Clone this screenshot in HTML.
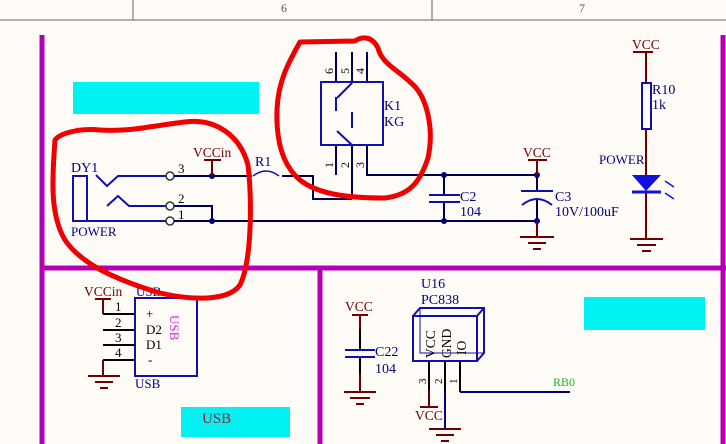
<!DOCTYPE html>
<html><head><meta charset="utf-8"><style>
html,body{margin:0;padding:0;background:#fffcf7;}
svg{display:block;font-family:"Liberation Serif",serif;}
</style></head><body>
<svg width="726" height="444" viewBox="0 0 726 444" xmlns="http://www.w3.org/2000/svg">
<rect width="726" height="444" fill="#fffcf7"/>
<!-- header -->
<line x1="0" y1="20" x2="726" y2="20" stroke="#666" stroke-width="1"/>
<line x1="133" y1="0" x2="133" y2="20" stroke="#666"/>
<line x1="432" y1="0" x2="432" y2="20" stroke="#666"/>
<text x="281" y="12" font-size="12" fill="#555">6</text>
<text x="579" y="12" font-size="12" fill="#555">7</text>
<!-- purple borders -->
<g stroke="#b400b4" stroke-width="5">
<line x1="42" y1="35" x2="42" y2="444"/>
<line x1="723" y1="35" x2="723" y2="444"/>
<line x1="40" y1="268" x2="726" y2="268"/>
<line x1="320" y1="268" x2="320" y2="444"/>
</g>
<!-- cyan -->
<rect x="73" y="82" width="186" height="32" fill="#00f2f2"/>
<rect x="181" y="407" width="109" height="30" fill="#00f2f2"/>
<rect x="584" y="297" width="121" height="33" fill="#00f2f2"/>
<text x="202" y="423" font-size="15" fill="#a0202a">USB</text>
<!-- DY1 -->
<g stroke="#1010b0" stroke-width="2" fill="none">
<rect x="73" y="176" width="14" height="45"/>
<polyline points="96,175 107,186 118,176 166,176"/>
<polyline points="107,206 118,196 129,206 166,206"/>
<line x1="73" y1="221" x2="166" y2="221"/>
</g>
<g stroke="#333" stroke-width="1.5" fill="#fff">
<circle cx="170" cy="176" r="4"/><circle cx="170" cy="206" r="4"/><circle cx="170" cy="221" r="4"/>
</g>
<g stroke="#000050" stroke-width="2" fill="none">
<line x1="174" y1="176" x2="252" y2="176"/>
<polyline points="174,206 212,206 212,221"/>
<line x1="174" y1="221" x2="537" y2="221"/>
<polyline points="282,176 313,176 313,199 352,199"/>
<polyline points="367,145 367,175 537,175"/>
<line x1="336" y1="145" x2="336" y2="175"/>
<line x1="352" y1="145" x2="352" y2="199"/>
<line x1="336" y1="52" x2="336" y2="82"/>
<line x1="352" y1="52" x2="352" y2="82"/>
<line x1="367" y1="52" x2="367" y2="82"/>
<line x1="444" y1="175" x2="444" y2="195"/><line x1="444" y1="202" x2="444" y2="221"/>
<line x1="537" y1="175" x2="537" y2="191"/><line x1="537" y1="200" x2="537" y2="221"/>
</g>
<path d="M253,176 Q266,166 279,176" stroke="#1010b0" stroke-width="1.5" fill="none"/>
<text x="255" y="166" font-size="14" fill="#000080">R1</text>
<g fill="#000080"><circle cx="212" cy="176" r="3"/><circle cx="212" cy="221" r="3"/><circle cx="444" cy="175" r="3"/><circle cx="537" cy="175" r="3"/><circle cx="444" cy="221" r="3"/><circle cx="537" cy="221" r="3"/></g>
<text x="71" y="172" font-size="14" fill="#000080">DY1</text>
<text x="71" y="236" font-size="13" fill="#000080">POWER</text>
<text x="178" y="173" font-size="13" fill="#000">3</text>
<text x="178" y="203" font-size="13" fill="#000">2</text>
<text x="178" y="219" font-size="13" fill="#000">1</text>
<g stroke="#700000" stroke-width="2"><line x1="212" y1="160" x2="212" y2="176"/><line x1="204" y1="160" x2="221" y2="160"/></g>
<text x="193" y="157" font-size="13.5" fill="#700000">VCCin</text>
<!-- K1 -->
<g stroke="#1010b0" stroke-width="2" fill="none">
<rect x="321" y="82" width="62" height="63"/>
<line x1="337" y1="98" x2="352" y2="83"/>
<line x1="336" y1="97" x2="336" y2="111"/><line x1="352" y1="112" x2="352" y2="128"/>
<line x1="337" y1="131" x2="352" y2="145"/>
</g>
<text x="384" y="110" font-size="14" fill="#000080">K1</text>
<text x="384" y="126" font-size="14" fill="#000080">KG</text>
<g font-size="12" fill="#000">
<text transform="translate(333,74) rotate(-90)">6</text><text transform="translate(349,74) rotate(-90)">5</text><text transform="translate(364,74) rotate(-90)">4</text>
<text transform="translate(333,168) rotate(-90)">1</text><text transform="translate(349,168) rotate(-90)">2</text><text transform="translate(364,168) rotate(-90)">3</text>
</g>
<!-- C2 C3 -->
<g stroke="#1010b0" stroke-width="2" fill="none">
<line x1="429" y1="195" x2="460" y2="195"/><line x1="429" y1="202" x2="460" y2="202"/>
<line x1="521" y1="191" x2="553" y2="191"/>
<path d="M522,205 Q537,193 552,205"/>
</g>
<text x="460" y="201" font-size="14" fill="#000080">C2</text>
<text x="460" y="216" font-size="14" fill="#000080">104</text>
<text x="555" y="201" font-size="14" fill="#000080">C3</text>
<text x="555" y="216" font-size="14" fill="#000080">10V/100uF</text>
<g stroke="#700000" stroke-width="2">
<line x1="537" y1="160" x2="537" y2="175"/><line x1="528" y1="160" x2="547" y2="160"/>
<line x1="537" y1="221" x2="537" y2="237"/><line x1="520" y1="237" x2="554" y2="237"/><line x1="528" y1="243" x2="546" y2="243"/><line x1="533" y1="249" x2="541" y2="249"/>
</g>
<text x="523" y="157" font-size="13.5" fill="#700000">VCC</text>
<!-- R10 LED -->
<g stroke="#700000" stroke-width="2">
<line x1="633" y1="52" x2="653" y2="52"/><line x1="646" y1="52" x2="646" y2="82"/>
<line x1="646" y1="129" x2="646" y2="175"/>
<line x1="646" y1="191" x2="646" y2="238"/><line x1="630" y1="239" x2="663" y2="239"/><line x1="637" y1="245" x2="656" y2="245"/><line x1="642" y1="251" x2="651" y2="251"/>
</g>
<text x="632" y="49" font-size="13.5" fill="#700000">VCC</text>
<rect x="642" y="83" width="9" height="46" fill="none" stroke="#1010b0" stroke-width="2"/>
<text x="652" y="94" font-size="14" fill="#000080">R10</text>
<text x="652" y="109" font-size="14" fill="#000080">1k</text>
<text x="599" y="164" font-size="13" fill="#000080">POWER</text>
<polygon points="632,175 661,175 646,191" fill="#1010e0"/>
<line x1="632" y1="192" x2="661" y2="192" stroke="#1010e0" stroke-width="3"/>
<g stroke="#1010e0" stroke-width="1.5"><line x1="665" y1="181" x2="674" y2="187"/><line x1="665" y1="193" x2="674" y2="199"/></g>
<!-- USB -->
<rect x="135" y="298" width="62" height="78" fill="none" stroke="#1010b0" stroke-width="2"/>
<g stroke="#000" stroke-width="2"><line x1="103" y1="314" x2="135" y2="314"/><line x1="103" y1="330" x2="135" y2="330"/><line x1="103" y1="345" x2="135" y2="345"/><line x1="103" y1="360" x2="135" y2="360"/></g>
<g stroke="#700000" stroke-width="2"><polyline points="103,314 103,299" /><line x1="95" y1="299" x2="111" y2="299"/><polyline points="103,360 103,376"/><line x1="88" y1="376" x2="120" y2="376"/><line x1="95" y1="382" x2="113" y2="382"/><line x1="100" y1="388" x2="108" y2="388"/></g>
<text x="84" y="296" font-size="13.5" fill="#700000">VCCin</text>
<text x="136" y="296" font-size="13" fill="#000080">USB</text>
<text x="135" y="388" font-size="13" fill="#000080">USB</text>
<g font-size="13" fill="#000"><text x="115" y="311">1</text><text x="115" y="327">2</text><text x="115" y="342">3</text><text x="115" y="357">4</text></g>
<g font-size="13" fill="#000"><text x="146" y="318">+</text><text x="146" y="334">D2</text><text x="146" y="349">D1</text><text x="148" y="364">-</text></g>
<text transform="translate(170,315) rotate(90)" font-size="13" fill="#e020e0">USB</text>
<!-- C22 -->
<g stroke="#700000" stroke-width="2"><line x1="352" y1="315" x2="368" y2="315"/><line x1="360" y1="315" x2="360" y2="329"/><line x1="360" y1="374" x2="360" y2="391"/><line x1="344" y1="392" x2="376" y2="392"/><line x1="350" y1="398" x2="370" y2="398"/><line x1="356" y1="404" x2="364" y2="404"/></g>
<g stroke="#000" stroke-width="2"><line x1="360" y1="329" x2="360" y2="350"/><line x1="360" y1="357" x2="360" y2="374"/></g>
<g stroke="#1010b0" stroke-width="2"><line x1="345" y1="350" x2="375" y2="350"/><line x1="345" y1="357" x2="375" y2="357"/></g>
<text x="345" y="311" font-size="13.5" fill="#700000">VCC</text>
<text x="375" y="356" font-size="14" fill="#000080">C22</text>
<text x="375" y="373" font-size="14" fill="#000080">104</text>
<!-- U16 -->
<text x="421" y="288" font-size="14" fill="#000080">U16</text>
<text x="421" y="304" font-size="14" fill="#000080">PC838</text>
<g stroke="#1010b0" stroke-width="2" fill="none">
<rect x="413" y="316" width="64" height="45"/>
<polyline points="413,316 420,308 484,308 484,353 477,361"/><line x1="477" y1="316" x2="484" y2="308"/>
<rect x="420" y="308" width="64" height="45" stroke-width="1"/>
</g>
<g font-size="13.5" fill="#000"><text transform="translate(435,358) rotate(-90)">VCC</text><text transform="translate(451,358) rotate(-90)">GND</text><text transform="translate(466,355) rotate(-90)">IO</text></g>
<g stroke="#000" stroke-width="2"><line x1="429" y1="361" x2="429" y2="390"/><line x1="445" y1="361" x2="445" y2="390"/><line x1="460" y1="361" x2="460" y2="392"/></g>
<polyline points="460,392 570,392" stroke="#000080" stroke-width="2" fill="none"/>
<g font-size="11" fill="#000"><text transform="translate(426,384) rotate(-90)">3</text><text transform="translate(442,384) rotate(-90)">2</text><text transform="translate(457,384) rotate(-90)">1</text></g>
<g stroke="#700000" stroke-width="2"><line x1="429" y1="390" x2="429" y2="407"/><line x1="420" y1="407" x2="438" y2="407"/><line x1="429" y1="429" x2="461" y2="429"/><line x1="436" y1="435" x2="454" y2="435"/><line x1="441" y1="441" x2="449" y2="441"/></g>
<line x1="445" y1="390" x2="445" y2="429" stroke="#000080" stroke-width="2"/>
<text x="415" y="420" font-size="13.5" fill="#700000">VCC</text>
<text x="553" y="386" font-size="12" fill="#20b020">RB0</text>
<!-- red annotations -->
<g stroke="#f00000" stroke-width="5" fill="none" stroke-linecap="round" stroke-linejoin="round">
<path d="M55,140 C52,180 50,215 65,240 C80,262 110,278 160,293 C190,300 228,302 240,285 C252,260 252,200 248,165 C240,135 215,118 185,122 C150,126 130,132 100,130 C80,128 60,133 55,140 Z"/>
<path d="M300,42 L355,41 C362,36 372,36 378,48 C382,64 398,70 410,82 C428,96 434,130 428,158 C420,182 410,195 385,198 C355,198 320,196 300,180 C282,165 276,140 277,110 C278,80 290,60 300,42 Z"/>
</g>
</svg>
</body></html>
